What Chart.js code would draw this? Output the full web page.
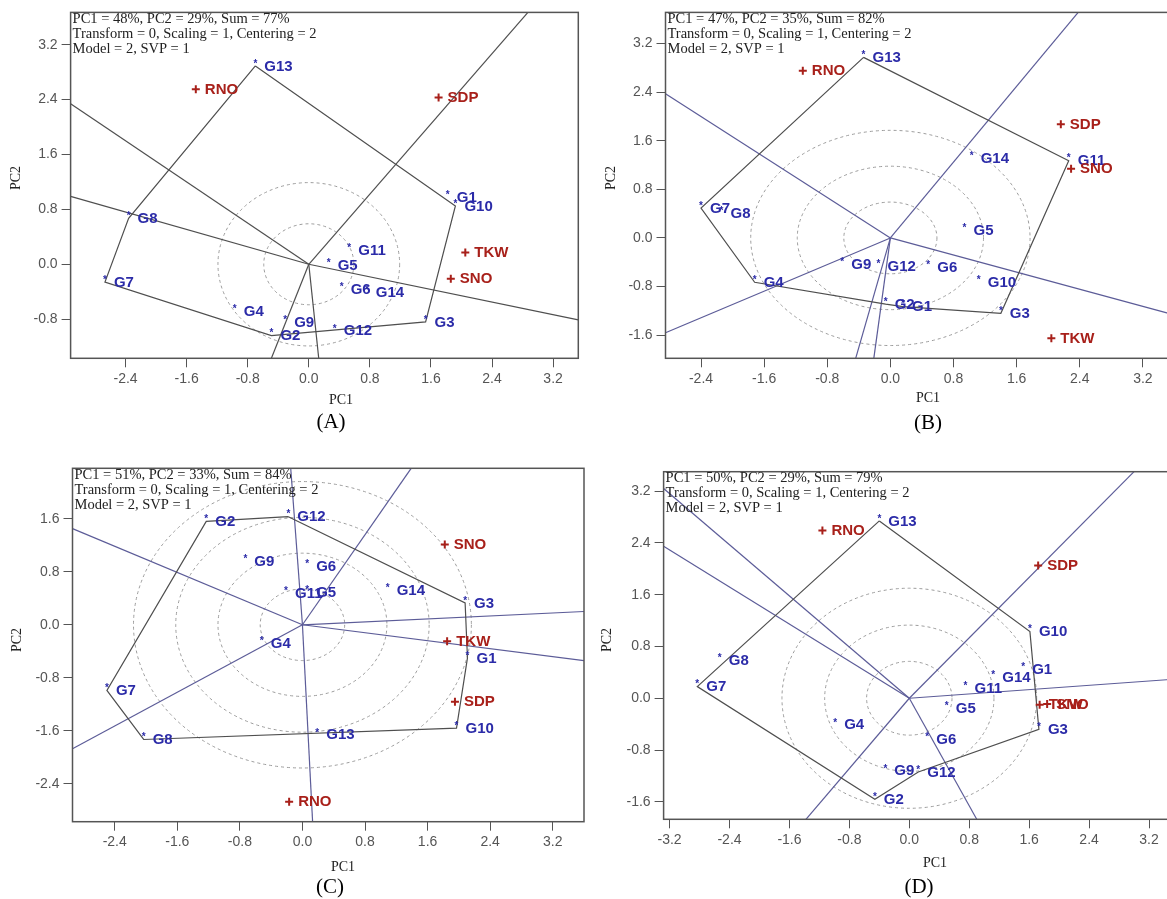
<!DOCTYPE html>
<html lang="en">
<head>
<meta charset="UTF-8">
<title>GGE biplots</title>
<script src="https://cdn.jsdelivr.net/npm/chart.js"></script>
<style>
  body { margin: 0; width: 1167px; height: 899px; overflow: hidden; background: #fff; position: relative; }
  canvas { position: absolute; }
</style>
</head>
<body>
<canvas id="chartA" width="590" height="440" style="left:0;top:0"></canvas>
<canvas id="chartB" width="600" height="440" style="left:590px;top:0"></canvas>
<canvas id="chartC" width="590" height="459" style="left:0;top:440px"></canvas>
<canvas id="chartD" width="600" height="459" style="left:590px;top:440px"></canvas>
<script>
// ---- shared labels ----
const genotypes = ['G1','G2','G3','G4','G5','G6','G7','G8','G9','G10','G11','G12','G13','G14']
const traits = ['RNO','SDP','TKW','SNO']
const infoRest = ['Transform = 0, Scaling = 1, Centering = 2', 'Model = 2, SVP = 1']

// ---- (A) ----
const infoA = 'PC1 = 48%, PC2 = 29%, Sum = 77%'
const genoPc1A = [1.82,-0.49,1.53,-0.97,0.26,0.43,-2.67,-2.36,-0.31,1.92,0.53,0.34,-0.70,0.76]
const genoPc2A = [0.98,-1.04,-0.84,-0.69,-0.02,-0.36,-0.26,0.67,-0.85,0.85,0.20,-0.97,2.89,-0.41]
const traitPc1A = [-1.48,1.70,2.05,1.86]
const traitPc2A = [2.55,2.43,0.17,-0.21]
const hullA = ['G13','G10','G3','G2','G7','G8']
const rayPc1A = [2.87,-3.12,-3.12,3.53,-0.49,0.13]
const rayPc2A = [3.67,2.34,0.99,-0.81,-1.37,-1.37]
const ringsA = [0.59,1.19]
const xTicksA = [-2.4,-1.6,-0.8,0,0.8,1.6,2.4,3.2]
const yTicksA = [-0.8,0,0.8,1.6,2.4,3.2]

// ---- (B) ----
const infoB = 'PC1 = 47%, PC2 = 35%, Sum = 82%'
const genoPc1B = [0.16,-0.06,1.40,-1.72,0.94,0.48,-2.40,-2.14,-0.61,1.12,2.26,-0.15,-0.34,1.03]
const genoPc2B = [-1.13,-1.09,-1.24,-0.73,0.12,-0.49,0.49,0.40,-0.44,-0.73,1.27,-0.46,2.97,1.31]
const traitPc1B = [-1.11,2.16,2.04,2.29]
const traitPc2B = [2.75,1.87,-1.65,1.14]
const hullB = ['G13','G11','G3','G1','G2','G4','G7']
const rayPc1B = [2.38,-2.85,-2.85,3.55,-0.44,-0.21]
const rayPc2B = [3.71,2.37,-1.56,-1.25,-1.98,-1.98]
const ringsB = [0.59,1.18,1.77]
const xTicksB = [-2.4,-1.6,-0.8,0,0.8,1.6,2.4,3.2]
const yTicksB = [-1.6,-0.8,0,0.8,1.6,2.4,3.2]

// ---- (C) ----
const infoC = 'PC1 = 51%, PC2 = 33%, Sum = 84%'
const genoPc1C = [2.11,-1.23,2.08,-0.52,0.06,0.06,-2.50,-2.03,-0.73,1.97,-0.21,-0.18,0.19,1.09]
const genoPc2C = [-0.50,1.56,0.33,-0.28,0.49,0.88,-0.99,-1.73,0.96,-1.56,0.47,1.63,-1.66,0.52]
const traitPc1C = [-0.17,1.95,1.85,1.82]
const traitPc2C = [-2.67,-1.16,-0.25,1.21]
const hullC = ['G12','G3','G1','G10','G8','G7','G2']
const rayPc1C = [1.39,-0.15,-2.94,-2.94,0.13,3.60,3.60]
const rayPc2C = [2.36,2.36,1.45,-1.87,-2.97,0.20,-0.54]
const ringsC = [0.54,1.08,1.62,2.16]
const xTicksC = [-2.4,-1.6,-0.8,0,0.8,1.6,2.4,3.2]
const yTicksC = [-2.4,-1.6,-0.8,0,0.8,1.6]

// ---- (D) ----
const infoD = 'PC1 = 50%, PC2 = 29%, Sum = 79%'
const genoPc1D = [1.52,-0.46,1.73,-0.99,0.50,0.24,-2.83,-2.53,-0.32,1.61,0.75,0.12,-0.40,1.12]
const genoPc2D = [0.45,-1.56,-0.48,-0.41,-0.15,-0.63,0.18,0.59,-1.12,1.03,0.15,-1.14,2.74,0.32]
const traitPc1D = [-1.16,1.72,1.74,1.84]
const traitPc2D = [2.59,2.05,-0.10,-0.09]
const hullD = ['G13','G10','G3','G12','G2','G7']
const rayPc1D = [3.00,-3.28,-3.28,-1.38,0.90,3.48]
const rayPc2D = [3.50,3.24,2.35,-1.87,-1.87,0.29]
const ringsD = [0.57,1.13,1.70]
const xTicksD = [-3.2,-2.4,-1.6,-0.8,0,0.8,1.6,2.4,3.2]
const yTicksD = [-1.6,-0.8,0,0.8,1.6,2.4,3.2]

const SANS = '"Liberation Sans", Arial, sans-serif'
const SERIF = '"Liberation Serif", "Times New Roman", serif'
const BLUE = '#2b2ba8'
const RED = '#a8201a'

// draws rings, frame, point labels and the text bits
const biplotDecor = {
  id: 'biplotDecor',
  beforeDatasetsDraw(chart, args, opts) {
    const {ctx, chartArea: a} = chart
    const x = chart.scales.x, y = chart.scales.y
    const cx = x.getPixelForValue(0), cy = y.getPixelForValue(0)
    ctx.save()
    ctx.beginPath()
    ctx.rect(a.left, a.top, a.width, a.height)
    ctx.clip()
    ctx.setLineDash([3, 3])
    ctx.strokeStyle = '#9c9c9c'
    ctx.lineWidth = 1
    opts.rings.forEach(r => {
      const rx = Math.abs(x.getPixelForValue(r) - cx)
      const ry = Math.abs(y.getPixelForValue(r) - cy)
      ctx.beginPath()
      ctx.ellipse(cx, cy, rx, ry, 0, 0, Math.PI * 2)
      ctx.stroke()
    })
    ctx.restore()
  },
  afterDatasetsDraw(chart, args, opts) {
    const {ctx, chartArea: a} = chart
    ctx.save()
    // point labels
    chart.data.datasets.forEach((ds, i) => {
      if (!ds.names) return
      const meta = chart.getDatasetMeta(i)
      meta.data.forEach((el, j) => {
        ctx.fillStyle = ds.textColor
        if (ds.star) {
          ctx.font = 'bold 10px ' + SANS
          ctx.textAlign = 'center'
          ctx.textBaseline = 'middle'
          ctx.fillText('*', el.x, el.y - 2)
        }
        ctx.font = 'bold 15px ' + SANS
        ctx.textAlign = 'left'
        ctx.textBaseline = 'middle'
        ctx.fillText(ds.names[j], el.x + 9, el.y + 0.5)
      })
    })
    // frame
    ctx.strokeStyle = '#555'
    ctx.lineWidth = 1.5
    ctx.strokeRect(a.left, a.top, a.width, a.height)
    // info text
    ctx.fillStyle = '#222'
    ctx.font = '14.5px ' + SERIF
    ctx.textAlign = 'left'
    ctx.textBaseline = 'middle'
    opts.info.forEach((line, k) => ctx.fillText(line, a.left + 2, a.top + 6.5 + k * 15))
    // axis titles and caption
    ctx.font = '14px ' + SERIF
    ctx.textAlign = 'center'
    ctx.fillText('PC1', opts.pc1At[0], opts.pc1At[1])
    ctx.save()
    ctx.translate(opts.pc2At[0], opts.pc2At[1])
    ctx.rotate(-Math.PI / 2)
    ctx.fillText('PC2', 0, 0)
    ctx.restore()
    ctx.fillStyle = '#000'
    ctx.font = '21px ' + SERIF
    ctx.fillText(opts.caption, opts.capAt[0], opts.capAt[1])
    ctx.restore()
  }
}

function makeBiplot(canvasId, p) {
  const canvas = document.getElementById(canvasId)
  const W = canvas.width, H = canvas.height
  const rays = p.rayPc1.map((vx, i) => ({
    data: [{x: 0, y: 0}, {x: vx, y: p.rayPc2[i]}],
    showLine: true, borderColor: p.rayColor, borderWidth: 1.2, pointRadius: 0
  }))
  const hullPts = p.hull.concat([p.hull[0]]).map(g => {
    const k = genotypes.indexOf(g)
    return {x: p.genoPc1[k], y: p.genoPc2[k]}
  })
  const datasets = [
    {
      data: genotypes.map((g, k) => ({x: p.genoPc1[k], y: p.genoPc2[k]})),
      names: genotypes, textColor: BLUE, star: true, pointRadius: 0
    },
    {
      data: traits.map((t, k) => ({x: p.traitPc1[k], y: p.traitPc2[k]})),
      names: traits, textColor: RED, pointStyle: 'cross', pointRadius: 4,
      borderColor: RED, borderWidth: 2
    },
    {data: hullPts, showLine: true, borderColor: '#4f4f4f', borderWidth: 1.2, pointRadius: 0},
    ...rays
  ]
  const tickStyle = {color: '#555', font: {family: SANS, size: 14}, autoSkip: false, maxRotation: 0}
  const gridStyle = {display: true, drawOnChartArea: false, drawTicks: true, tickLength: 9, color: '#555'}
  new Chart(canvas, {
    type: 'scatter',
    data: {datasets},
    options: {
      responsive: false,
      animation: false,
      devicePixelRatio: 1,
      layout: {padding: {left: 0, top: p.area.t, right: W - p.area.r, bottom: 0}},
      plugins: {
        legend: {display: false},
        tooltip: {enabled: false},
        biplotDecor: {
          rings: p.rings, info: [p.info].concat(infoRest),
          pc1At: p.pc1At, pc2At: p.pc2At, capAt: p.capAt, caption: p.caption
        }
      },
      scales: {
        x: {
          type: 'linear', min: p.xRange[0], max: p.xRange[1],
          afterFit: s => { s.height = H - p.area.b },
          afterBuildTicks: s => { s.ticks = p.xTicks.map(v => ({value: v})) },
          grid: gridStyle, border: {display: false},
          ticks: {...tickStyle, padding: 3, callback: v => v.toFixed(1)}
        },
        y: {
          type: 'linear', min: p.yRange[0], max: p.yRange[1],
          afterFit: s => { s.width = p.area.l },
          afterBuildTicks: s => { s.ticks = p.yTicks.map(v => ({value: v})) },
          grid: gridStyle, border: {display: false},
          ticks: {...tickStyle, padding: 4, callback: v => v.toFixed(1)}
        }
      }
    },
    plugins: [biplotDecor]
  })
}

makeBiplot('chartA', {
  info: infoA, genoPc1: genoPc1A, genoPc2: genoPc2A, traitPc1: traitPc1A, traitPc2: traitPc2A,
  hull: hullA, rayPc1: rayPc1A, rayPc2: rayPc2A, rings: ringsA, xTicks: xTicksA, yTicks: yTicksA,
  xRange: [-3.12, 3.53], yRange: [-1.37, 3.67], rayColor: '#4f4f4f',
  area: {l: 70.6, r: 578.3, t: 9.3, b: 358.3},
  pc1At: [341, 400], pc2At: [16, 178], capAt: [331, 422], caption: '(A)'
})
makeBiplot('chartB', {
  info: infoB, genoPc1: genoPc1B, genoPc2: genoPc2B, traitPc1: traitPc1B, traitPc2: traitPc2B,
  hull: hullB, rayPc1: rayPc1B, rayPc2: rayPc2B, rings: ringsB, xTicks: xTicksB, yTicks: yTicksB,
  xRange: [-2.85, 3.55], yRange: [-1.98, 3.71], rayColor: '#5c5c98',
  area: {l: 75.5, r: 580.5, t: 8.3, b: 358.3},
  pc1At: [338, 398], pc2At: [21, 178], capAt: [338, 423], caption: '(B)'
})
makeBiplot('chartC', {
  info: infoC, genoPc1: genoPc1C, genoPc2: genoPc2C, traitPc1: traitPc1C, traitPc2: traitPc2C,
  hull: hullC, rayPc1: rayPc1C, rayPc2: rayPc2C, rings: ringsC, xTicks: xTicksC, yTicks: yTicksC,
  xRange: [-2.94, 3.60], yRange: [-2.97, 2.36], rayColor: '#5c5c98',
  area: {l: 72.5, r: 585, t: 28.3, b: 381.7},
  pc1At: [343, 427], pc2At: [17, 200], capAt: [330, 447], caption: '(C)'
})
makeBiplot('chartD', {
  info: infoD, genoPc1: genoPc1D, genoPc2: genoPc2D, traitPc1: traitPc1D, traitPc2: traitPc2D,
  hull: hullD, rayPc1: rayPc1D, rayPc2: rayPc2D, rings: ringsD, xTicks: xTicksD, yTicks: yTicksD,
  xRange: [-3.28, 3.48], yRange: [-1.87, 3.50], rayColor: '#5c5c98',
  area: {l: 73.6, r: 580, t: 31.7, b: 379.3},
  pc1At: [345, 423], pc2At: [17, 200], capAt: [329, 447], caption: '(D)'
})
</script>
</body>
</html>
